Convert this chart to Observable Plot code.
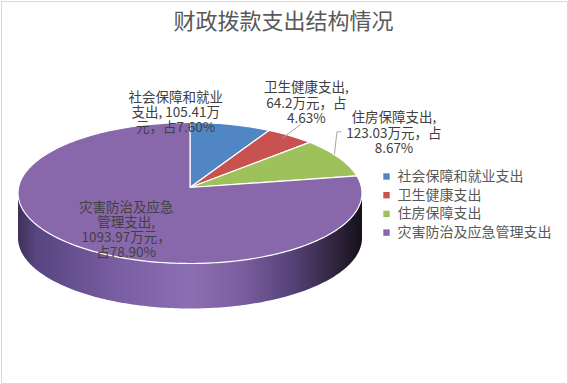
<!DOCTYPE html>
<html><head><meta charset="utf-8">
<script src="https://cdn.jsdelivr.net/npm/d3@7"></script>
<script src="https://cdn.jsdelivr.net/npm/@observablehq/plot@0.6"></script>
<style>body{margin:0;background:#fff}</style>
</head><body><div id="chart"></div>
<script>
// ---- data ----
const title = "财政拨款支出结构情况";
const categories = ["社会保障和就业支出", "卫生健康支出", "住房保障支出", "灾害防治及应急管理支出"];
const values = [105.41, 64.2, 123.03, 1093.97];
const percentLabels = ["7.60%", "4.63%", "8.67%", "78.90%"];
const labelTexts = [
  `社会保障和就业\n支出, ${values[0]}万\n元，占${percentLabels[0]}`,
  `卫生健康支出,\n${values[1]}万元，占\n${percentLabels[1]}`,
  `住房保障支出,\n${values[2]}万元，占\n${percentLabels[2]}`,
  `灾害防治及应急\n管理支出,\n${values[3]}万元，\n占${percentLabels[3]}`
];
const colors = ["#5086c4", "#c8524f", "#9fc15b", "#8868ab"];

// ---- layout ----
const W = 568, H = 384;
const cx = 189.5, cy = 192.5, rx = 172, ry = 70.5, depth = 45, apexY = 187;
const labelOffsets = [[-55, -12], [16, -33], [55, -25], [42, -19]];
const legendX = 386, legendY0 = 176, legendStep = 18.7;

const pt = (a, k = 1, dy = 0) => ({x: cx + k * rx * Math.sin(a), y: cy - k * ry * Math.cos(a) + dy});

const total = d3.sum(values);
let acc = 0;
const slices = values.map((v, i) => {
  const a0 = acc / total * 2 * Math.PI; acc += v;
  const a1 = acc / total * 2 * Math.PI;
  return {name: categories[i], a0, a1, mid: (a0 + a1) / 2};
});

const topPts = [];
for (const s of slices) {
  topPts.push({name: s.name, x: cx, y: apexY});
  const n = Math.max(2, Math.ceil((s.a1 - s.a0) / (Math.PI / 180)));
  for (let j = 0; j <= n; j++) {
    const p = pt(s.a0 + (s.a1 - s.a0) * j / n);
    topPts.push({name: s.name, ...p});
  }
}

const sidePts = [];
for (let j = 0; j <= 180; j++) sidePts.push(pt(Math.PI / 2 + Math.PI * j / 180));
for (let j = 180; j >= 0; j--) sidePts.push(pt(Math.PI / 2 + Math.PI * j / 180, 1, depth));

const labelData = slices.map((s, i) => {
  const m = pt(s.mid);
  return {text: labelTexts[i], x: m.x + labelOffsets[i][0], y: m.y + labelOffsets[i][1]};
});

const leaderPts = [];
{
  const r = slices[1], s1 = pt(r.mid, 0.96), L = labelData[1];
  leaderPts.push({id: 1, x: s1.x - 4, y: s1.y}, {id: 1, x: L.x - 6, y: L.y + 22});
  const g = slices[2], s2 = pt(g.mid, 0.97), G = labelData[2];
  leaderPts.push({id: 2, x: s2.x, y: s2.y - 5}, {id: 2, x: G.x - 57, y: G.y - 1}, {id: 2, x: G.x - 53, y: G.y - 1});
}

const legendData = categories.map((c, i) => ({name: c, y: legendY0 + i * legendStep}));

const font = "'Noto Sans CJK SC', 'Noto Sans', sans-serif";
const svg = Plot.plot({
  width: W, height: H, margin: 0,
  x: {domain: [0, W], range: [0, W], axis: null},
  y: {domain: [0, H], range: [0, H], axis: null},
  color: {domain: categories, range: colors},
  style: {fontFamily: font, background: "#fff"},
  marks: [
    Plot.frame({stroke: "#d9d9d9", inset: 1}),
    Plot.line(sidePts, {x: "x", y: "y", fill: "url(#sideGrad)", stroke: "none", curve: "linear-closed"}),
    Plot.line(topPts, {x: "x", y: "y", z: "name", fill: "name", stroke: "white", strokeWidth: 1.2, curve: "linear-closed"}),
    Plot.line(leaderPts, {x: "x", y: "y", z: "id", stroke: "#a6a6a6", strokeWidth: 1}),
    Plot.text(labelData, {x: "x", y: "y", text: "text", fontSize: 13.5, fill: "#404040", lineHeight: 1.12, lineAnchor: "middle"}),
    Plot.dot(legendData, {x: legendX, y: "y", fill: "name", symbol: "square", r: 3.6}),
    Plot.text(legendData, {x: legendX + 11, y: "y", text: "name", textAnchor: "start", fontSize: 14, fill: "#595959"}),
    Plot.text([title], {x: W / 2 - 1, y: 21, text: d => d, fontSize: 22, fill: "#595959"})
  ]
});

const defs = d3.select(svg).insert("defs", ":first-child");
const grad = defs.append("linearGradient").attr("id", "sideGrad").attr("x1", 0).attr("x2", 1).attr("y1", 0).attr("y2", 0);
[[0, "#3e3057"], [0.05, "#574480"], [0.3, "#7b5fa4"], [0.5, "#8b6fb2"], [0.65, "#7a5e9f"], [0.8, "#554178"], [0.92, "#30253d"], [1, "#14101a"]]
  .forEach(([o, c]) => grad.append("stop").attr("offset", o).attr("stop-color", c));

document.getElementById("chart").appendChild(svg);
</script>
</body></html>
